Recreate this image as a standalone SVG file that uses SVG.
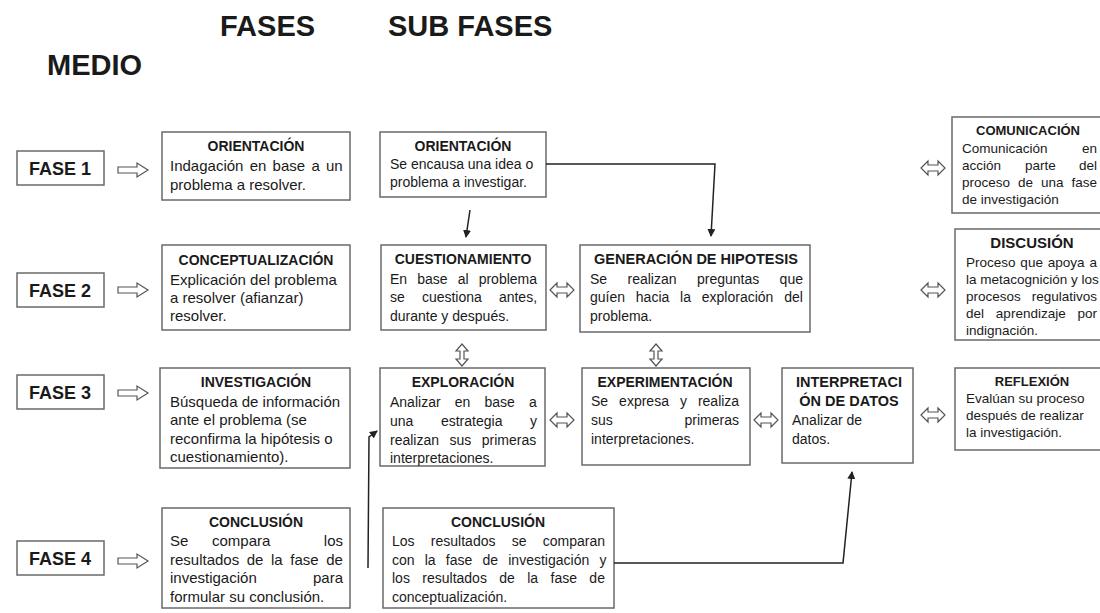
<svg xmlns="http://www.w3.org/2000/svg" width="1100" height="613" viewBox="0 0 1100 613">
<style>
text{font-family:"Liberation Sans",Arial,sans-serif;fill:#1a1a1a}
.h{font-size:29px;font-weight:bold}
.fase{font-size:18px;font-weight:bold;text-anchor:middle}
.t{font-size:14px;font-weight:bold;text-anchor:middle}
.t3{font-size:13px;font-weight:bold;text-anchor:middle}
.b1{font-size:15px}
.b2{font-size:14px}
.b3{font-size:13.5px}
.e{text-anchor:end}
.box{fill:#fff;stroke:#6a6a6a;stroke-width:1.5}
.ba{fill:#fff;stroke:#555;stroke-width:1.2}
.con{fill:none;stroke:#222;stroke-width:1.5}
</style>
<defs>
<path id="rarrow" d="M0,-3 H19 V-7 L30,0 L19,7 V3 H0 Z"/>
<path id="harrow" d="M-12,0 L-5,-7 L-5,-3 L5,-3 L5,-7 L12,0 L5,7 L5,3 L-5,3 L-5,7 Z"/>
<path id="varrow" d="M0,-11 L6,-4 L2,-4 L2,4 L6,4 L0,11 L-6,4 L-2,4 L-2,-4 L-6,-4 Z"/>
<marker id="ah" markerWidth="8" markerHeight="8" refX="7" refY="4" orient="auto" markerUnits="userSpaceOnUse">
<path d="M0,0 L8,4 L0,8 Z" fill="#222"/>
</marker>
</defs>

<g id="headers">
<text class="h" x="220" y="36">FASES</text>
<text class="h" x="388" y="36">SUB FASES</text>
<text class="h" x="47" y="75">MEDIO</text>
</g>

<g id="fase1"><rect class="box" x="17" y="151" width="87" height="34"/><text class="fase" x="60" y="175">FASE 1</text></g>
<g id="fase2"><rect class="box" x="17" y="273" width="87" height="34"/><text class="fase" x="60" y="297">FASE 2</text></g>
<g id="fase3"><rect class="box" x="17" y="375" width="87" height="34"/><text class="fase" x="60" y="399">FASE 3</text></g>
<g id="fase4"><rect class="box" x="17" y="541" width="87" height="34"/><text class="fase" x="60" y="565">FASE 4</text></g>

<g id="orientacion1">
<rect class="box" x="162" y="132" width="188" height="68"/>
<text class="t" x="256" y="151">ORIENTACIÓN</text>
<text class="b1" x="170" y="171" word-spacing="2.1">Indagación en base a un</text>
<text class="b1" x="170" y="190">problema a resolver.</text>
</g>

<g id="conceptualizacion">
<rect class="box" x="162" y="245" width="188" height="85"/>
<text class="t" x="256" y="265">CONCEPTUALIZACIÓN</text>
<text class="b1" x="170" y="285">Explicación del problema</text>
<text class="b1" x="170" y="303">a resolver (afianzar)</text>
<text class="b1" x="170" y="321">resolver.</text>
</g>

<g id="investigacion">
<rect class="box" x="160" y="368" width="190" height="100"/>
<text class="t" x="256" y="387">INVESTIGACIÓN</text>
<text class="b1" x="170" y="407">Búsqueda de información</text>
<text class="b1" x="170" y="425">ante el problema (se</text>
<text class="b1" x="170" y="444">reconfirma la hipótesis o</text>
<text class="b1" x="170" y="462">cuestionamiento).</text>
</g>

<g id="conclusion1">
<rect class="box" x="162" y="508" width="188" height="100"/>
<text class="t" x="256" y="527">CONCLUSIÓN</text>
<text class="b1" x="170" y="546">Se</text><text class="b1" x="212" y="546">compara</text><text class="b1 e" x="343" y="546">los</text>
<text class="b1" x="170" y="565" word-spacing="3.4">resultados de la fase de</text>
<text class="b1" x="170" y="583">investigación</text><text class="b1 e" x="343" y="583">para</text>
<text class="b1" x="170" y="602">formular su conclusión.</text>
</g>

<g id="orientacion2">
<rect class="box" x="380" y="132" width="166" height="65"/>
<text class="t" x="463" y="151">ORIENTACIÓN</text>
<text class="b2" x="390" y="169">Se encausa una idea o</text>
<text class="b2" x="390" y="187">problema a investigar.</text>
</g>

<g id="cuestionamiento">
<rect class="box" x="381" y="245" width="165" height="85"/>
<text class="t" x="463" y="264">CUESTIONAMIENTO</text>
<text class="b2" x="390" y="284" word-spacing="6.2">En base al problema</text>
<text class="b2" x="390" y="302" word-spacing="13.2">se cuestiona antes,</text>
<text class="b2" x="390" y="321">durante y después.</text>
</g>

<g id="generacion">
<rect class="box" x="580" y="245" width="230" height="87"/>
<text class="t" x="696" y="264" style="font-size:14.5px">GENERACIÓN DE HIPOTESIS</text>
<text class="b2" x="590" y="284" word-spacing="16.5">Se realizan preguntas que</text>
<text class="b2" x="590" y="302" word-spacing="6.9">guíen hacia la exploración del</text>
<text class="b2" x="590" y="321">problema.</text>
</g>

<g id="exploracion">
<rect class="box" x="380" y="368" width="165" height="98"/>
<text class="t" x="463" y="387">EXPLORACIÓN</text>
<text class="b2" x="390" y="407" word-spacing="10.3">Analizar en base a</text>
<text class="b2" x="390" y="426" word-spacing="23.7">una estrategia y</text>
<text class="b2" x="390" y="445" word-spacing="6.6">realizan sus primeras</text>
<text class="b2" x="390" y="463">interpretaciones.</text>
</g>

<g id="experimentacion">
<rect class="box" x="582" y="368" width="168" height="97"/>
<text class="t" x="665" y="387">EXPERIMENTACIÓN</text>
<text class="b2" x="591" y="406" word-spacing="7.1">Se expresa y realiza</text>
<text class="b2" x="591" y="425">sus</text><text class="b2 e" x="739" y="425">primeras</text>
<text class="b2" x="591" y="444">interpretaciones.</text>
</g>

<g id="interpretacion">
<rect class="box" x="782" y="368" width="131" height="95"/>
<text class="t" x="849" y="387" style="font-size:14.5px">INTERPRETACI</text>
<text class="t" x="849" y="406" style="font-size:14.5px">ÓN DE DATOS</text>
<text class="b2" x="792" y="425">Analizar de</text>
<text class="b2" x="792" y="444">datos.</text>
</g>

<g id="conclusion2">
<rect class="box" x="383" y="508" width="231" height="100"/>
<text class="t" x="498" y="527">CONCLUSIÓN</text>
<text class="b2" x="392" y="546" word-spacing="12.4">Los resultados se comparan</text>
<text class="b2" x="392" y="565" word-spacing="6.3">con la fase de investigación y</text>
<text class="b2" x="392" y="583" word-spacing="8.5">los resultados de la fase de</text>
<text class="b2" x="392" y="602">conceptualización.</text>
</g>

<g id="comunicacion">
<rect class="box" x="952" y="117" width="160" height="96"/>
<text class="t3" x="1028" y="135">COMUNICACIÓN</text>
<text class="b3" x="962" y="153">Comunicación</text><text class="b3 e" x="1097" y="153">en</text>
<text class="b3" x="962" y="170">acción</text><text class="b3" x="1025" y="170">parte</text><text class="b3 e" x="1097" y="170">del</text>
<text class="b3" x="962" y="187" word-spacing="4.2">proceso de una fase</text>
<text class="b3" x="962" y="204">de investigación</text>
</g>

<g id="discusion">
<rect class="box" x="955" y="229" width="160" height="111"/>
<text class="t" x="1032" y="248" style="font-size:15px">DISCUSIÓN</text>
<text class="b3" x="966" y="267" word-spacing="1.1">Proceso que apoya a</text>
<text class="b3" x="966" y="284">la metacognición y los</text>
<text class="b3" x="966" y="301">procesos</text><text class="b3 e" x="1097" y="301">regulativos</text>
<text class="b3" x="966" y="318" word-spacing="8.1">del aprendizaje por</text>
<text class="b3" x="966" y="335">indignación.</text>
</g>

<g id="reflexion">
<rect class="box" x="955" y="368" width="150" height="82"/>
<text class="t3" x="1032" y="386">REFLEXIÓN</text>
<text class="b3" x="966" y="403">Evalúan su proceso</text>
<text class="b3" x="966" y="420">después de realizar</text>
<text class="b3" x="966" y="437">la investigación.</text>
</g>

<g id="connectors">
<use href="#rarrow" class="ba" x="118" y="170"/>
<use href="#rarrow" class="ba" x="118" y="290"/>
<use href="#rarrow" class="ba" x="118" y="393"/>
<use href="#rarrow" class="ba" x="118" y="561"/>
<use href="#harrow" class="ba" x="933" y="168"/>
<use href="#harrow" class="ba" x="933" y="290"/>
<use href="#harrow" class="ba" x="933" y="415"/>
<use href="#harrow" class="ba" x="562" y="290"/>
<use href="#harrow" class="ba" x="562" y="420"/>
<use href="#harrow" class="ba" x="766" y="420"/>
<use href="#varrow" class="ba" x="462" y="355"/>
<use href="#varrow" class="ba" x="656" y="355"/>
<path class="con" d="M546,164 H715 L711,236" marker-end="url(#ah)"/>
<path class="con" d="M470,210 L466,237" marker-end="url(#ah)"/>
<path class="con" d="M368,568 L369,437 L377,431" marker-end="url(#ah)"/>
<path class="con" d="M614,563 H843 L852,472" marker-end="url(#ah)"/>
</g>
</svg>
